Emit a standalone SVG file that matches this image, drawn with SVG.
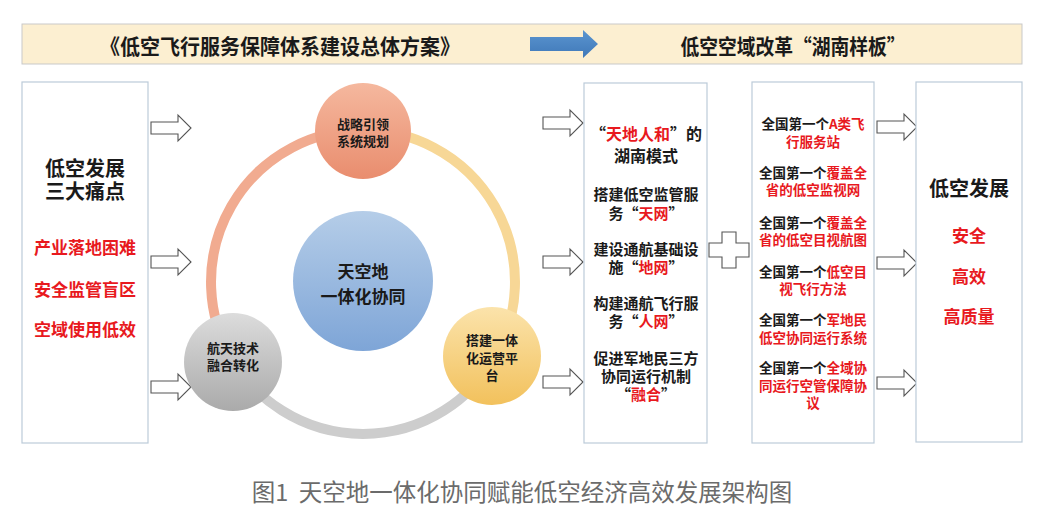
<svg xmlns="http://www.w3.org/2000/svg" width="1041" height="516" viewBox="0 0 1041 516">
<style>
text{font-family:"Noto Sans CJK SC","Noto Sans",sans-serif;font-weight:bold;fill:#1a1a1a;text-anchor:middle;dominant-baseline:central}
.r{fill:#e8191e}
.box{fill:#ffffff;stroke:#bccbd9;stroke-width:1.2}
.ha{fill:#ffffff;stroke:#555555;stroke-width:1.1}
.t13{font-size:13px}.t14{font-size:13.5px}.t15{font-size:15px}.t16{font-size:16px}.t17{font-size:17px}.t20{font-size:20px}
.cap{font-weight:normal;fill:#6b6b6b;font-size:23.5px;white-space:pre}
</style>
<defs>
<path id="ha" d="M0,-6 H27 V-13 L40,0 L27,13 V6 H0 Z"/>
<linearGradient id="gTop" x1="0" y1="0" x2="0" y2="1"><stop offset="0" stop-color="#f5b89e"/><stop offset="1" stop-color="#e98d6e"/></linearGradient>
<linearGradient id="gGray" x1="0" y1="0" x2="0" y2="1"><stop offset="0" stop-color="#dcdcdc"/><stop offset="1" stop-color="#aaaaaa"/></linearGradient>
<linearGradient id="gYel" x1="0" y1="0" x2="0" y2="1"><stop offset="0" stop-color="#fbe3ab"/><stop offset="1" stop-color="#f2c15c"/></linearGradient>
<linearGradient id="gBlue" x1="0" y1="0" x2="0" y2="1"><stop offset="0" stop-color="#b5cde8"/><stop offset="1" stop-color="#7ea5d7"/></linearGradient>
<linearGradient id="gArrow" x1="0" y1="0" x2="0" y2="1"><stop offset="0" stop-color="#5b95d0"/><stop offset="1" stop-color="#3f78b8"/></linearGradient>
</defs>
<rect width="1041" height="516" fill="#ffffff"/>

<g id="header">
<rect x="22" y="24" width="1000" height="40" fill="#fcefd1" stroke="#c9c9c9" stroke-width="1"/>
<text x="280" y="45" font-size="21" textLength="360" lengthAdjust="spacingAndGlyphs">《低空飞行服务保障体系建设总体方案》</text>
<path d="M530,37 H583 V30 L598,44 L583,58 V51 H530 Z" fill="url(#gArrow)"/>
<text x="793" y="45" font-size="21" textLength="225" lengthAdjust="spacingAndGlyphs">低空空域改革“湖南样板”</text>
</g>

<g id="pain-points">
<rect class="box" x="22" y="82" width="126" height="361"/>
<text class="t20"><tspan x="85" y="167">低空发展</tspan><tspan x="85" y="190">三大痛点</tspan></text>
<text class="t17 r"><tspan x="85" y="246">产业落地困难</tspan><tspan x="85" y="288">安全监管盲区</tspan><tspan x="85" y="328">空域使用低效</tspan></text>
</g>

<g id="connectors">
<use href="#ha" class="ha" x="151" y="128"/>
<use href="#ha" class="ha" x="151" y="262"/>
<use href="#ha" class="ha" x="151" y="387"/>
<use href="#ha" class="ha" x="543" y="123"/>
<use href="#ha" class="ha" x="543" y="262"/>
<use href="#ha" class="ha" x="543" y="382"/>
<use href="#ha" class="ha" x="877" y="127"/>
<use href="#ha" class="ha" x="877" y="263"/>
<use href="#ha" class="ha" x="877" y="383"/>
<path d="M722,232 H736 V243 H749 V257 H736 V268 H722 V257 H709 V243 H722 Z" class="ha"/>
</g>

<g id="ring" fill="none" stroke-width="10">
<path d="M363,130 A152,152 0 0 1 494.6,358" stroke="#f7d796"/>
<path d="M494.6,358 A152,152 0 0 1 231.4,358" stroke="#cdcdcd"/>
<path d="M231.4,358 A152,152 0 0 1 363,130" stroke="#f1ab90"/>
</g>

<g id="node-center">
<circle cx="363" cy="281" r="70" fill="url(#gBlue)"/>
<text class="t17"><tspan x="363" y="270">天空地</tspan><tspan x="363" y="295">一体化协同</tspan></text>
</g>
<g id="node-top">
<circle cx="363" cy="131" r="48" fill="url(#gTop)"/>
<text class="t13"><tspan x="363" y="123">战略引领</tspan><tspan x="363" y="140">系统规划</tspan></text>
</g>
<g id="node-left">
<circle cx="233" cy="362" r="49" fill="url(#gGray)"/>
<text class="t13"><tspan x="233" y="347">航天技术</tspan><tspan x="233" y="364">融合转化</tspan></text>
</g>
<g id="node-right">
<circle cx="492" cy="356" r="49" fill="url(#gYel)"/>
<text class="t13"><tspan x="492" y="339">搭建一体</tspan><tspan x="492" y="357">化运营平</tspan><tspan x="492" y="374">台</tspan></text>
</g>

<g id="hunan-model">
<rect class="box" x="584" y="83" width="123" height="360"/>
<text class="t16"><tspan x="646" y="133">“<tspan class="r">天地人和</tspan>”的</tspan><tspan x="646" y="155">湖南模式</tspan></text>
<text class="t15"><tspan x="646" y="193">搭建低空监管服</tspan><tspan x="646" y="212">务“<tspan class="r">天网</tspan>”</tspan></text>
<text class="t15"><tspan x="646" y="248">建设通航基础设</tspan><tspan x="646" y="266">施“<tspan class="r">地网</tspan>”</tspan></text>
<text class="t15"><tspan x="646" y="302">构建通航飞行服</tspan><tspan x="646" y="320">务“<tspan class="r">人网</tspan>”</tspan></text>
<text class="t15"><tspan x="646" y="357">促进军地民三方</tspan><tspan x="646" y="375">协同运行机制</tspan><tspan x="646" y="393">“<tspan class="r">融合</tspan>”</tspan></text>
</g>

<g id="firsts">
<rect class="box" x="752" y="82" width="122" height="361"/>
<text class="t14"><tspan x="813" y="123">全国第一个<tspan class="r">A类飞</tspan></tspan><tspan x="813" y="141" class="r">行服务站</tspan></text>
<text class="t14"><tspan x="813" y="172">全国第一个<tspan class="r">覆盖全</tspan></tspan><tspan x="813" y="189" class="r">省的低空监视网</tspan></text>
<text class="t14"><tspan x="813" y="222">全国第一个<tspan class="r">覆盖全</tspan></tspan><tspan x="813" y="239" class="r">省的低空目视航图</tspan></text>
<text class="t14"><tspan x="813" y="271">全国第一个<tspan class="r">低空目</tspan></tspan><tspan x="813" y="288" class="r">视飞行方法</tspan></text>
<text class="t14"><tspan x="813" y="319">全国第一个<tspan class="r">军地民</tspan></tspan><tspan x="813" y="337" class="r">低空协同运行系统</tspan></text>
<text class="t14"><tspan x="813" y="367">全国第一个<tspan class="r">全域协</tspan></tspan><tspan x="813" y="385" class="r">同运行空管保障协</tspan><tspan x="813" y="402" class="r">议</tspan></text>
</g>

<g id="development">
<rect class="box" x="916" y="82" width="106" height="360"/>
<text class="t20" x="969" y="187">低空发展</text>
<text class="t17 r"><tspan x="969" y="234">安全</tspan><tspan x="969" y="275">高效</tspan><tspan x="969" y="315">高质量</tspan></text>
</g>

<text class="cap" x="522" y="491" xml:space="preserve">图1  天空地一体化协同赋能低空经济高效发展架构图</text>
</svg>
